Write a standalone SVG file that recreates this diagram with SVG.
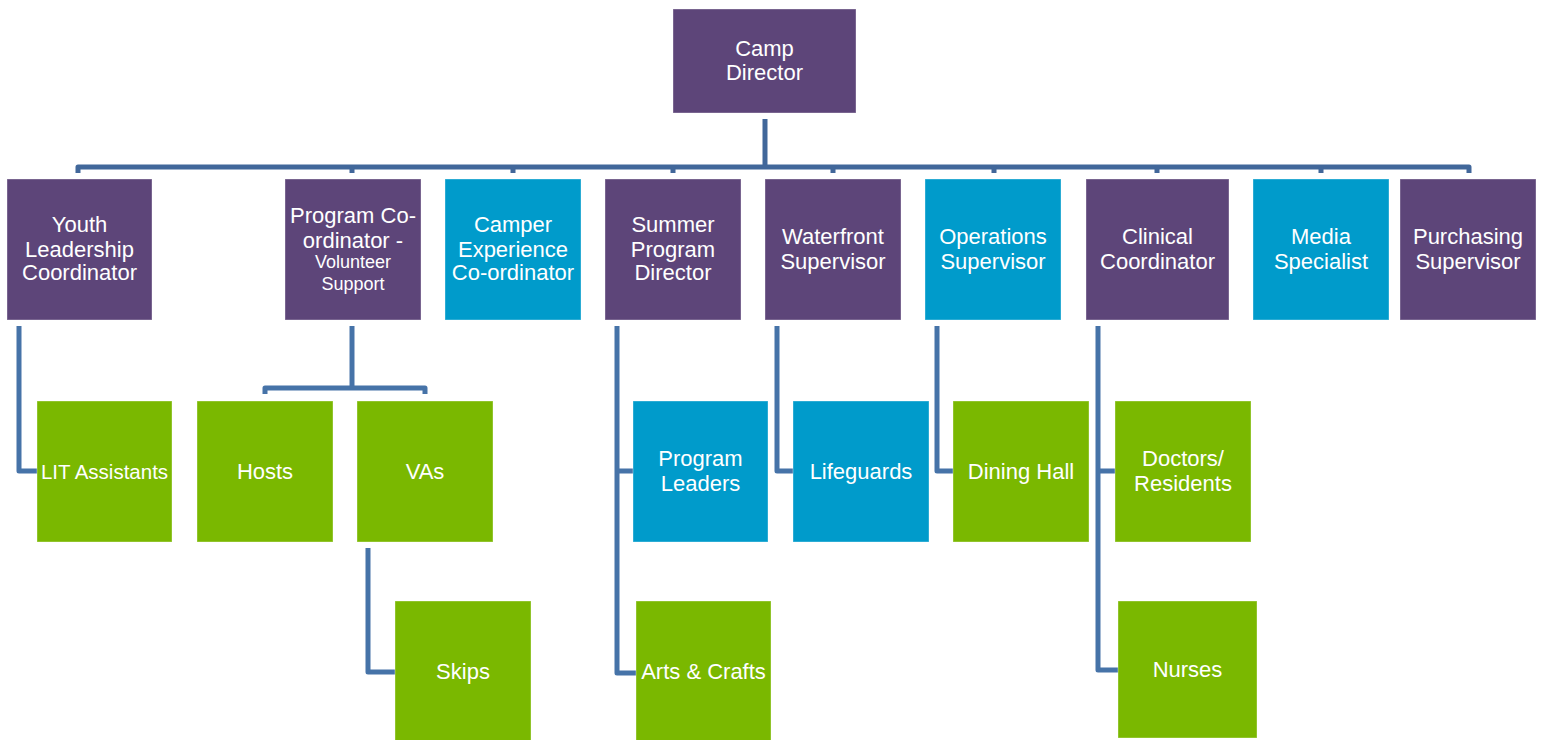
<svg xmlns="http://www.w3.org/2000/svg" width="1544" height="740" viewBox="0 0 1544 740">
<style>
.p{fill:#5D4579}
.b{fill:#009BCB}
.g{fill:#7AB800}
rect{stroke:#ffffff;stroke-opacity:0.35;stroke-width:1}
text{font-family:"Liberation Sans",Arial,sans-serif;font-size:22px;fill:#ffffff;text-anchor:middle}
.s{font-size:18px}
.n{font-size:20.5px}
.c{fill:none;stroke:#4673A8;stroke-width:5;stroke-linejoin:round}
.t{fill:none;stroke:#41679A;stroke-width:5;stroke-linejoin:round}
</style>
<rect width="1544" height="740" fill="#ffffff" stroke="none"/>
<g id="connectors">
<path class="t" d="M765 119V167"/>
<path class="t" d="M78 173V167H1469V173"/>
<path class="t" d="M352 167V173M513 167V173M673 167V173M833 167V173M994 167V173M1157 167V173M1321 167V173"/>
<path class="c" d="M19 326V471H37"/>
<path class="c" d="M352 326V388"/>
<path class="c" d="M265 394V388H425V394"/>
<path class="c" d="M368 548V672H395"/>
<path class="c" d="M617 326V673H636M617 471H633"/>
<path class="c" d="M777 326V471H793"/>
<path class="c" d="M937 326V471H953"/>
<path class="c" d="M1098 326V670H1118M1098 471H1115"/>
</g>
<g id="camp-director"><rect class="p" x="673" y="9" width="183" height="104"/><text x="764.5" y="56">Camp</text><text x="764.5" y="80">Director</text></g>
<g id="youth-leadership"><rect class="p" x="7" y="179" width="145" height="141"/><text x="79.5" y="232">Youth</text><text x="79.5" y="257">Leadership</text><text x="79.5" y="280">Coordinator</text></g>
<g id="program-coordinator"><rect class="p" x="285" y="179" width="136" height="141"/><text x="353" y="223">Program Co-</text><text x="353" y="248">ordinator -</text><text class="s" x="353" y="268">Volunteer</text><text class="s" x="353" y="290">Support</text></g>
<g id="camper-experience"><rect class="b" x="445" y="179" width="136" height="141"/><text x="513" y="232">Camper</text><text x="513" y="257">Experience</text><text x="513" y="280">Co-ordinator</text></g>
<g id="summer-program"><rect class="p" x="605" y="179" width="136" height="141"/><text x="673" y="232">Summer</text><text x="673" y="257">Program</text><text x="673" y="280">Director</text></g>
<g id="waterfront"><rect class="p" x="765" y="179" width="136" height="141"/><text x="833" y="244">Waterfront</text><text x="833" y="269">Supervisor</text></g>
<g id="operations"><rect class="b" x="925" y="179" width="136" height="141"/><text x="993" y="244">Operations</text><text x="993" y="269">Supervisor</text></g>
<g id="clinical"><rect class="p" x="1086" y="179" width="143" height="141"/><text x="1157.5" y="244">Clinical</text><text x="1157.5" y="269">Coordinator</text></g>
<g id="media"><rect class="b" x="1253" y="179" width="136" height="141"/><text x="1321" y="244">Media</text><text x="1321" y="269">Specialist</text></g>
<g id="purchasing"><rect class="p" x="1400" y="179" width="136" height="141"/><text x="1468" y="244">Purchasing</text><text x="1468" y="269">Supervisor</text></g>
<g id="lit-assistants"><rect class="g" x="37" y="401" width="135" height="141"/><text class="n" x="104.5" y="479">LIT Assistants</text></g>
<g id="hosts"><rect class="g" x="197" y="401" width="136" height="141"/><text x="265" y="479">Hosts</text></g>
<g id="vas"><rect class="g" x="357" y="401" width="136" height="141"/><text x="425" y="479">VAs</text></g>
<g id="skips"><rect class="g" x="395" y="601" width="136" height="145"/><text x="463" y="679">Skips</text></g>
<g id="program-leaders"><rect class="b" x="633" y="401" width="135" height="141"/><text x="700.5" y="466">Program</text><text x="700.5" y="491">Leaders</text></g>
<g id="arts-crafts"><rect class="g" x="636" y="601" width="135" height="145"/><text x="703.5" y="679">Arts &amp; Crafts</text></g>
<g id="lifeguards"><rect class="b" x="793" y="401" width="136" height="141"/><text x="861" y="479">Lifeguards</text></g>
<g id="dining-hall"><rect class="g" x="953" y="401" width="136" height="141"/><text x="1021" y="479">Dining Hall</text></g>
<g id="doctors-residents"><rect class="g" x="1115" y="401" width="136" height="141"/><text x="1183" y="466">Doctors/</text><text x="1183" y="491">Residents</text></g>
<g id="nurses"><rect class="g" x="1118" y="601" width="139" height="137"/><text x="1187.5" y="677">Nurses</text></g>
</svg>
